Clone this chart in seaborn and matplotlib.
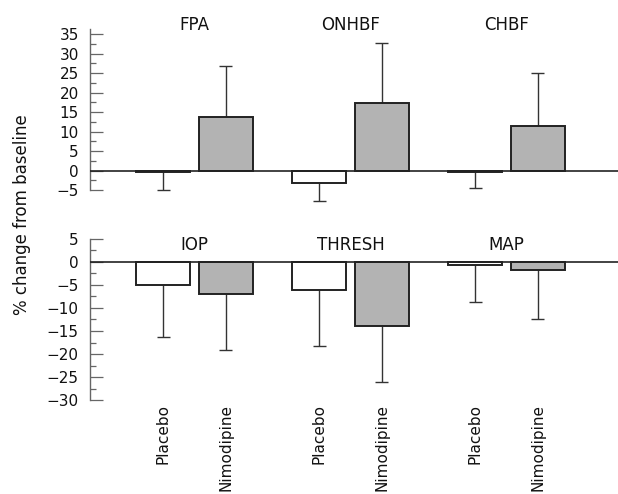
import matplotlib
matplotlib.use("Agg")
import matplotlib.pyplot as plt
import seaborn as sns
import pandas as pd
import numpy as np
from matplotlib.ticker import MultipleLocator, AutoMinorLocator
from matplotlib.transforms import blended_transform_factory

sns.set_style("white")
plt.rcParams['font.family'] = ['DejaVu Sans']

# measures shown in each panel
measures_top = ['FPA', 'ONHBF', 'CHBF']
measures_bottom = ['IOP', 'THRESH', 'MAP']
groups = ['Placebo', 'Nimodipine']

# mean % change from baseline, and SD (error bar drawn away from zero)
placebo_mean = [-0.3, -3.1, -0.3, -5.1, -6.0, -0.6]
placebo_sd = [4.8, 4.8, 4.1, 11.1, 12.2, 8.0]
nimodipine_mean = [13.7, 17.4, 11.4, -7.0, -14.0, -1.7]
nimodipine_sd = [13.2, 15.3, 13.6, 12.1, 12.1, 10.8]

bar_colors = {'Placebo': 'white', 'Nimodipine': '#b3b3b3'}
ink = '#222222'
axis_gray = '#666666'


def build_frame():
    rows = []
    measures = measures_top + measures_bottom
    for i, m in enumerate(measures):
        rows.append([m, 'Placebo', placebo_mean[i], placebo_sd[i]])
        rows.append([m, 'Nimodipine', nimodipine_mean[i], nimodipine_sd[i]])
    return pd.DataFrame(rows, columns=['measure', 'group', 'mean', 'sd'])


def draw_panel(ax, d, ylim, title_y, show_xlabels):
    sns.barplot(data=d, x='measure', y='mean', hue='group', hue_order=groups,
                palette=bar_colors, edgecolor=ink, linewidth=1.4, gap=0.135,
                errorbar=None, legend=False, ax=ax, zorder=2)

    # one-sided error bars, pointing away from zero
    cap_half = 0.042
    centers = []
    labels = []
    for g, cont in zip(groups, ax.containers):
        sub = d[d['group'] == g]
        for bar, (_, r) in zip(cont.patches, sub.iterrows()):
            xc = bar.get_x() + bar.get_width() / 2
            centers.append(xc)
            labels.append(g)
            end = r['mean'] - r['sd'] if r['mean'] < 0 else r['mean'] + r['sd']
            ax.vlines(xc, r['mean'], end, color='#333333', lw=1, zorder=1,
                      clip_on=False)
            ax.hlines(end, xc - cap_half, xc + cap_half, color='#333333', lw=1,
                      zorder=1, clip_on=False)

    ax.axhline(0, color=ink, lw=1.2, zorder=3)
    ax.set_xlim(-0.67, 2.715)
    ax.set_ylim(*ylim)
    ax.set_xlabel('')
    ax.set_ylabel('')

    for side in ['top', 'right', 'bottom']:
        ax.spines[side].set_visible(False)
    ax.spines['left'].set_color(axis_gray)
    ax.spines['left'].set_linewidth(1)

    ax.yaxis.set_major_locator(MultipleLocator(5))
    ax.yaxis.set_minor_locator(AutoMinorLocator(2))
    ax.tick_params(axis='y', which='both', left=True)
    ax.tick_params(axis='y', which='major', direction='in', length=9.5,
                   width=0.9, color=axis_gray, labelsize=11, pad=8,
                   labelcolor='#111111')
    ax.tick_params(axis='y', which='minor', direction='in', length=4.5,
                   width=0.9, color=axis_gray)

    if show_xlabels:
        order = np.argsort(centers)
        ax.set_xticks([centers[i] for i in order])
        ax.set_xticklabels([labels[i] for i in order], rotation=90,
                           fontsize=11, va='top', color='#111111')
        ax.tick_params(axis='x', length=0, pad=3)
    else:
        ax.set_xticks([])

    trans = blended_transform_factory(ax.transData, ax.transAxes)
    for i, m in enumerate(d['measure'].unique()):
        ax.text(i, title_y, m, transform=trans, ha='center', va='center',
                fontsize=12, color='#111111')


def main():
    df = build_frame()
    fig = plt.figure(figsize=(6.18, 4.94), dpi=100)

    ax_top = fig.add_axes([90 / 618, 1 - 190 / 494, 528 / 618, 161 / 494])
    ax_bot = fig.add_axes([90 / 618, 1 - 400 / 494, 528 / 618, 161 / 494])

    draw_panel(ax_top, df[df['measure'].isin(measures_top)], (-5, 36.3), 1.025, False)
    draw_panel(ax_bot, df[df['measure'].isin(measures_bottom)], (-30, 5), 0.963, True)

    fig.text(22 / 618, 1 - 215 / 494, '% change from baseline', rotation=90,
             ha='center', va='center', fontsize=12, color='#111111')

    fig.savefig('out.png', dpi=100)


if __name__ == "__main__":
    main()
